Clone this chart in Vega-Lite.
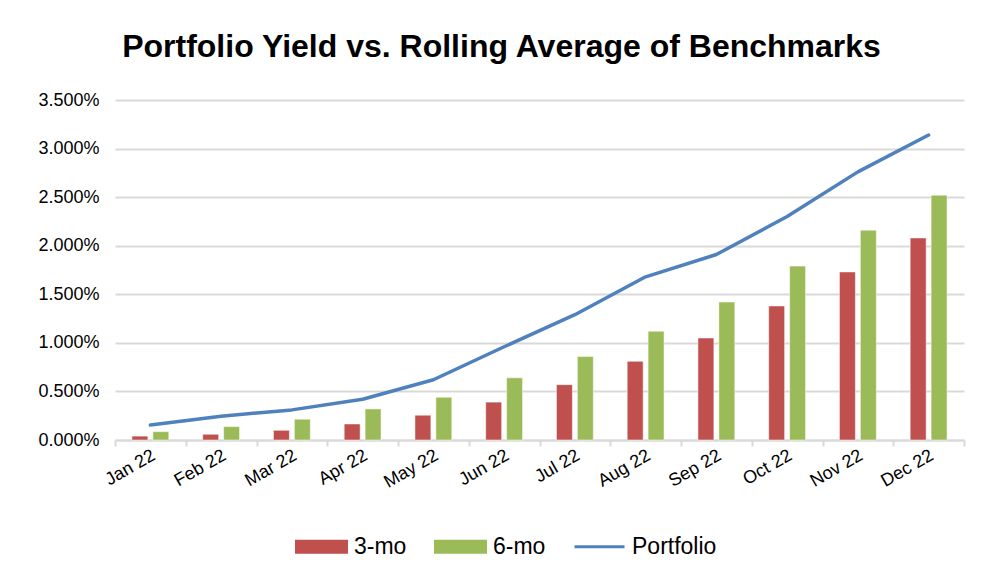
{
  "$schema": "https://vega.github.io/schema/vega-lite/v6.json",
  "width": 849,
  "height": 340,
  "autosize": {"type": "none"},
  "padding": {"left": 115, "top": 100, "right": 19, "bottom": 133},
  "background": "white",
  "title": {
    "text": "Portfolio Yield vs. Rolling Average of Benchmarks",
    "font": "Liberation Sans",
    "fontSize": 32,
    "fontWeight": "bold",
    "color": "#000000",
    "frame": "group",
    "anchor": "middle",
    "dx": -38,
    "offset": 27
  },
  "datasets": {
    "bars": [
      {"month": "Jan 22", "series": "3-mo", "value": 0.0004},
      {"month": "Jan 22", "series": "6-mo", "value": 0.00086},
      {"month": "Feb 22", "series": "3-mo", "value": 0.00059},
      {"month": "Feb 22", "series": "6-mo", "value": 0.00138},
      {"month": "Mar 22", "series": "3-mo", "value": 0.001},
      {"month": "Mar 22", "series": "6-mo", "value": 0.00214},
      {"month": "Apr 22", "series": "3-mo", "value": 0.00165},
      {"month": "Apr 22", "series": "6-mo", "value": 0.0032},
      {"month": "May 22", "series": "3-mo", "value": 0.00255},
      {"month": "May 22", "series": "6-mo", "value": 0.0044},
      {"month": "Jun 22", "series": "3-mo", "value": 0.0039},
      {"month": "Jun 22", "series": "6-mo", "value": 0.0064},
      {"month": "Jul 22", "series": "3-mo", "value": 0.0057},
      {"month": "Jul 22", "series": "6-mo", "value": 0.0086},
      {"month": "Aug 22", "series": "3-mo", "value": 0.0081},
      {"month": "Aug 22", "series": "6-mo", "value": 0.0112},
      {"month": "Sep 22", "series": "3-mo", "value": 0.0105},
      {"month": "Sep 22", "series": "6-mo", "value": 0.0142},
      {"month": "Oct 22", "series": "3-mo", "value": 0.0138},
      {"month": "Oct 22", "series": "6-mo", "value": 0.0179},
      {"month": "Nov 22", "series": "3-mo", "value": 0.0173},
      {"month": "Nov 22", "series": "6-mo", "value": 0.0216},
      {"month": "Dec 22", "series": "3-mo", "value": 0.0208},
      {"month": "Dec 22", "series": "6-mo", "value": 0.0252}
    ],
    "line": [
      {"month": "Jan 22", "series": "Portfolio", "value": 0.00155},
      {"month": "Feb 22", "series": "Portfolio", "value": 0.00245},
      {"month": "Mar 22", "series": "Portfolio", "value": 0.0031},
      {"month": "Apr 22", "series": "Portfolio", "value": 0.0042},
      {"month": "May 22", "series": "Portfolio", "value": 0.0062},
      {"month": "Jun 22", "series": "Portfolio", "value": 0.0096},
      {"month": "Jul 22", "series": "Portfolio", "value": 0.0129},
      {"month": "Aug 22", "series": "Portfolio", "value": 0.0168},
      {"month": "Sep 22", "series": "Portfolio", "value": 0.0191},
      {"month": "Oct 22", "series": "Portfolio", "value": 0.023},
      {"month": "Nov 22", "series": "Portfolio", "value": 0.0276},
      {"month": "Dec 22", "series": "Portfolio", "value": 0.0314}
    ]
  },
  "encoding": {
    "x": {
      "field": "month",
      "type": "nominal",
      "sort": null,
      "title": null,
      "scale": {"paddingInner": 0, "paddingOuter": 0},
      "axis": {
        "labelAngle": -30,
        "labelAlign": "right",
        "labelBaseline": "middle",
        "labelFont": "Liberation Sans",
        "labelFontSize": 18,
        "labelColor": "#000000",
        "labelPadding": 8,
        "labelOffset": 3,
        "tickBand": "extent",
        "tickColor": "#D9D9D9",
        "tickWidth": 2,
        "tickSize": 6,
        "domainColor": "#D9D9D9",
        "domainWidth": 2,
        "grid": false
      }
    },
    "y": {
      "field": "value",
      "type": "quantitative",
      "title": null,
      "scale": {"domain": [0, 0.035], "nice": false},
      "axis": {
        "values": [0, 0.005, 0.01, 0.015, 0.02, 0.025, 0.03, 0.035],
        "format": ".3%",
        "labelFont": "Liberation Sans",
        "labelFontSize": 18,
        "labelColor": "#000000",
        "labelPadding": 16,
        "ticks": false,
        "domain": false,
        "grid": true,
        "gridColor": "#D9D9D9",
        "gridWidth": 2
      }
    },
    "color": {
      "field": "series",
      "type": "nominal",
      "title": null,
      "scale": {
        "domain": ["3-mo", "6-mo", "Portfolio"],
        "range": ["#C0504D", "#9BBB59", "#4F81BD"]
      },
      "legend": {
        "orient": "none",
        "legendX": 180,
        "legendY": 420,
        "padding": 0,
        "direction": "horizontal",
        "labelFont": "Liberation Sans",
        "labelFontSize": 23,
        "labelColor": "#000000",
        "labelOffset": 6,
        "columnPadding": 22,
        "symbolSize": 2500,
        "symbolType": "M-1,-0.22H1V0.22H-1Z",
        "symbolStrokeWidth": 3,
        "symbolOpacity": 1,
        "encode": {
          "symbols": {
            "update": {
              "shape": {"signal": "datum.value === 'Portfolio' ? 'M-1,0H1' : 'M-1,-0.22H1V0.22H-1Z'"},
              "fill": {"signal": "datum.value === '3-mo' ? '#C0504D' : datum.value === '6-mo' ? '#9BBB59' : 'transparent'"},
              "stroke": {"signal": "datum.value === 'Portfolio' ? '#4F81BD' : 'transparent'"}
            }
          }
        }
      }
    }
  },
  "layer": [
    {
      "data": {"name": "bars"},
      "mark": {"type": "bar", "stroke": "white", "strokeWidth": 0.5},
      "encoding": {
        "xOffset": {
          "field": "series",
          "type": "nominal",
          "scale": {"paddingInner": 0.238, "paddingOuter": 0.81}
        }
      }
    },
    {
      "data": {"name": "line"},
      "mark": {"type": "line", "strokeWidth": 3.5, "strokeCap": "round", "strokeJoin": "round"}
    }
  ],
  "config": {
    "view": {"stroke": null},
    "font": "Liberation Sans"
  }
}
